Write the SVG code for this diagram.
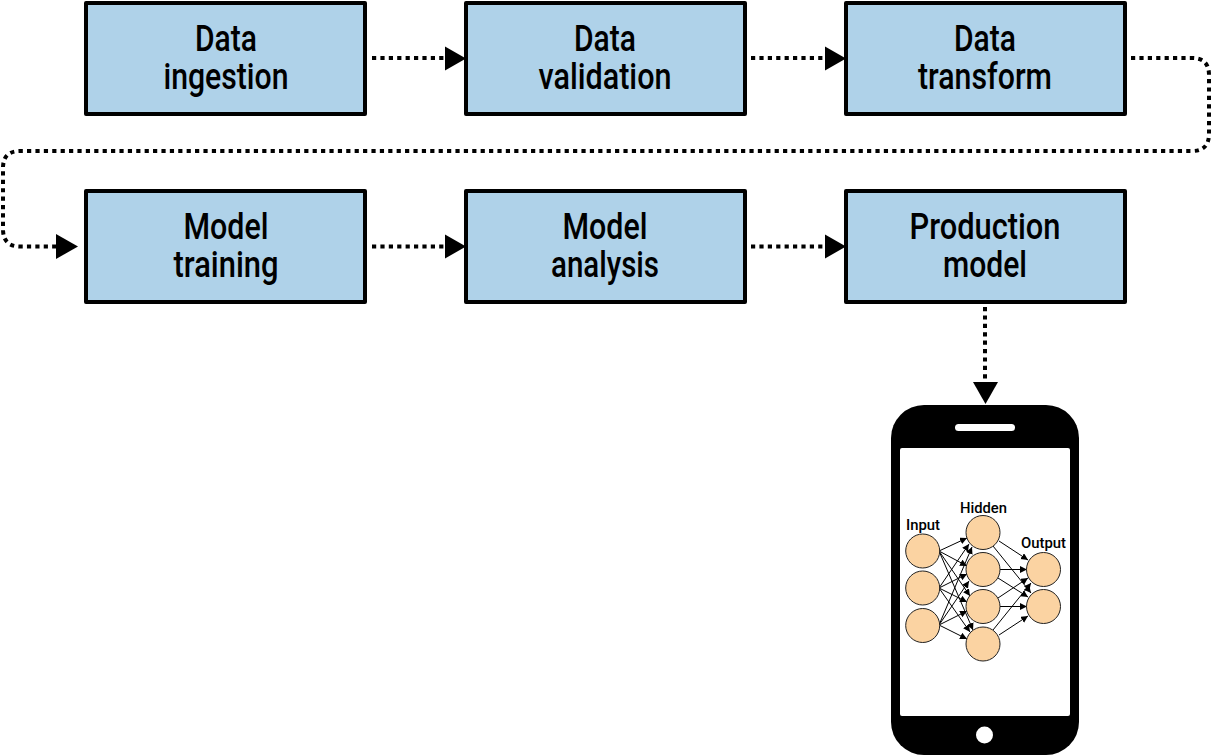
<svg xmlns="http://www.w3.org/2000/svg" width="1211" height="755" viewBox="0 0 1211 755">
<style>
.box{fill:#afd2e9;stroke:#000;stroke-width:4;stroke-linejoin:round}
.t{font-family:"Roboto","Liberation Sans",sans-serif;font-size:36px;font-weight:500;text-anchor:middle;fill:#000}
.s{font-family:"Roboto","Liberation Sans",sans-serif;font-size:15px;font-weight:500;text-anchor:middle;fill:#000}
.d{fill:none;stroke:#000;stroke-width:4;stroke-dasharray:4.200 4.200}
.n{fill:#fbd3a2;stroke:#222;stroke-width:1}
.e{stroke:#000;stroke-width:1;fill:none;marker-end:url(#m)}
</style>
<defs><marker id="m" markerUnits="userSpaceOnUse" markerWidth="8" markerHeight="8" refX="7" refY="3.5" orient="auto"><path d="M0 0L7 3.5L0 7Z" fill="#000"/></marker></defs>
<g id="connectors">
<path class="d" d="M372 58H446"/><path d="M445 46.500L466 58.500L445 70.500Z"/>
<path class="d" d="M751 58H826"/><path d="M825 46.500L846 58.500L825 70.500Z"/>
<path class="d" d="M1131 58H1192Q1209 58 1209 75V134Q1209 151 1192 151H20Q3 151 3 168V229Q3 246.500 20 246.500H56"/><path d="M56 234L78 246.500L56 259Z"/>
<path class="d" d="M372 246.500H446"/><path d="M445 234.500L466 246.500L445 258.500Z"/>
<path class="d" d="M751 246.500H826"/><path d="M825 234.500L846 246.500L825 258.500Z"/>
<path class="d" d="M985 307V382"/><path d="M973 382L998 382L985.500 404Z"/>
</g>
<g id="n1"><rect class="box" x="86" y="3" width="279" height="111"/><text class="t" textLength="62" lengthAdjust="spacingAndGlyphs" x="226" y="51">Data</text><text class="t" textLength="125" lengthAdjust="spacingAndGlyphs" x="226" y="89">ingestion</text></g>
<g id="n2"><rect class="box" x="466" y="3" width="279" height="111"/><text class="t" textLength="62" lengthAdjust="spacingAndGlyphs" x="605" y="51">Data</text><text class="t" textLength="133" lengthAdjust="spacingAndGlyphs" x="605" y="89">validation</text></g>
<g id="n3"><rect class="box" x="846" y="3" width="279" height="111"/><text class="t" textLength="62" lengthAdjust="spacingAndGlyphs" x="985" y="51">Data</text><text class="t" textLength="134" lengthAdjust="spacingAndGlyphs" x="985" y="89">transform</text></g>
<g id="n4"><rect class="box" x="86" y="191" width="279" height="111"/><text class="t" textLength="85" lengthAdjust="spacingAndGlyphs" x="226" y="239">Model</text><text class="t" textLength="105" lengthAdjust="spacingAndGlyphs" x="226" y="277">training</text></g>
<g id="n5"><rect class="box" x="466" y="191" width="279" height="111"/><text class="t" textLength="85" lengthAdjust="spacingAndGlyphs" x="605" y="239">Model</text><text class="t" textLength="108" lengthAdjust="spacingAndGlyphs" x="605" y="277">analysis</text></g>
<g id="n6"><rect class="box" x="846" y="191" width="279" height="111"/><text class="t" textLength="151" lengthAdjust="spacingAndGlyphs" x="985" y="239">Production</text><text class="t" textLength="84" lengthAdjust="spacingAndGlyphs" x="985" y="277">model</text></g>
<g id="phone">
<rect x="891" y="405" width="188" height="350" rx="33" fill="#000"/>
<rect x="900" y="448" width="170" height="268" rx="2" fill="#fff"/>
<rect x="955" y="424" width="60" height="7" rx="3.500" fill="#fff"/>
<circle cx="984.500" cy="735" r="8.500" fill="#fff"/>
</g>
<g id="net-edges">
<path class="e" d="M939 551L967 538"/><path class="e" d="M939 551L967 566"/><path class="e" d="M939 551L970 596"/><path class="e" d="M939 551L973 630"/>
<path class="e" d="M939 588L969 544"/><path class="e" d="M939 588L967 574"/><path class="e" d="M939 588L967 602"/><path class="e" d="M939 588L970 632"/>
<path class="e" d="M939 625L972 547"/><path class="e" d="M939 625L969 581"/><path class="e" d="M939 625L967 611"/><path class="e" d="M939 625L967 639"/>
<path class="e" d="M999 541L1028 560"/><path class="e" d="M993 546L1031 593"/>
<path class="e" d="M1000 569.500L1027 569.500"/><path class="e" d="M998 578L1028 597"/>
<path class="e" d="M998 598L1028 578"/><path class="e" d="M1000 606.500L1027 606.500"/>
<path class="e" d="M993 630L1031 583"/><path class="e" d="M999 635L1028 616"/>
</g>
<g id="net-nodes">
<circle class="n" cx="922.700" cy="551" r="17"/><circle class="n" cx="922.700" cy="588" r="17"/><circle class="n" cx="922.700" cy="625.500" r="17"/>
<circle class="n" cx="983" cy="532.500" r="17"/><circle class="n" cx="983" cy="569.500" r="17"/><circle class="n" cx="983" cy="606.500" r="17"/><circle class="n" cx="983" cy="644" r="17"/>
<circle class="n" cx="1043.500" cy="569.500" r="17"/><circle class="n" cx="1043.500" cy="606.500" r="17"/>
</g>
<g id="net-labels">
<text class="s" x="923" y="530" textLength="34" lengthAdjust="spacingAndGlyphs">Input</text>
<text class="s" x="983.500" y="513" textLength="47" lengthAdjust="spacingAndGlyphs">Hidden</text>
<text class="s" x="1043.500" y="548" textLength="45" lengthAdjust="spacingAndGlyphs">Output</text>
</g>
</svg>
